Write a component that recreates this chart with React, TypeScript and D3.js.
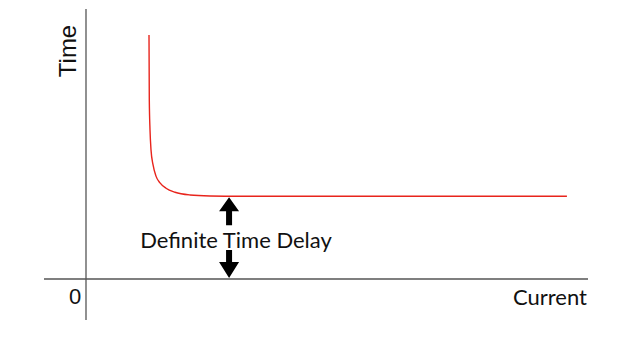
import React, { useEffect, useRef } from 'react';
import { select, scaleLinear, line, curveMonotoneX } from 'd3';

// curve readings (current, time) in arbitrary units
const currentValues = [1.255, 1.261, 1.275, 1.295, 1.335, 1.394, 1.474, 1.594, 1.773, 2.07, 2.47, 3.07, 9.58];
const timeValues = [3.63, 2.66, 2.22, 1.92, 1.7, 1.53, 1.43, 1.35, 1.29, 1.25, 1.235, 1.23, 1.23];
const delayTime = 1.23;
const delayCurrent = 2.85;

const App = () => {
  const svgRef = useRef(null);

  useEffect(() => {
    const svg = select(svgRef.current);
    svg.selectAll('*').remove();

    const x = scaleLinear().domain([0, 10]).range([86, 588]);
    const y = scaleLinear().domain([0, 4]).range([279, 10]);

    // axes
    svg.append('line')
      .attr('x1', 44).attr('y1', y(0)).attr('x2', x(10)).attr('y2', y(0))
      .attr('stroke', '#555').attr('stroke-width', 1.3);
    svg.append('line')
      .attr('x1', x(0)).attr('y1', 9).attr('x2', x(0)).attr('y2', 320)
      .attr('stroke', '#555').attr('stroke-width', 1.3);

    // the curve
    const pts: [number, number][] = currentValues.map((c, i) => [c, timeValues[i]]);
    const path = line<[number, number]>()
      .x((d) => x(d[0]))
      .y((d) => y(d[1]))
      .curve(curveMonotoneX);
    svg.append('path')
      .attr('d', path(pts))
      .attr('fill', 'none')
      .attr('stroke', '#e8241c')
      .attr('stroke-width', 1.4);

    // arrows
    const ax = x(delayCurrent);
    const top = y(delayTime);
    const bot = y(0);
    svg.append('path')
      .attr('d', `M${ax},${top + 1} L${ax + 10},${top + 15} L${ax + 3},${top + 15} L${ax + 3},${top + 29} L${ax - 3},${top + 29} L${ax - 3},${top + 15} L${ax - 10},${top + 15} Z`)
      .attr('fill', '#000');
    svg.append('path')
      .attr('d', `M${ax},${bot - 1} L${ax + 10},${bot - 17} L${ax + 3},${bot - 17} L${ax + 3},${bot - 29} L${ax - 3},${bot - 29} L${ax - 3},${bot - 17} L${ax - 10},${bot - 17} Z`)
      .attr('fill', '#000');

    svg.append('text')
      .attr('x', 236).attr('y', 248)
      .attr('text-anchor', 'middle')
      .attr('font-family', 'Lato, sans-serif')
      .attr('font-size', 22)
      .attr('fill', '#111')
      .text('Definite Time Delay');

    svg.append('text')
      .attr('transform', 'translate(76,51) rotate(-90)')
      .attr('text-anchor', 'middle')
      .attr('font-family', '"Liberation Sans", Arial, sans-serif')
      .attr('font-size', 24)
      .attr('fill', '#111')
      .text('Time');

    svg.append('text')
      .attr('x', 75).attr('y', 304)
      .attr('text-anchor', 'middle')
      .attr('font-family', '"Liberation Sans", Arial, sans-serif')
      .attr('font-size', 22)
      .attr('fill', '#111')
      .text('0');

    svg.append('text')
      .attr('x', 550).attr('y', 305)
      .attr('text-anchor', 'middle')
      .attr('font-family', 'Lato, sans-serif')
      .attr('font-size', 22)
      .attr('fill', '#111')
      .text('Current');
  }, []);

  return (
    <svg ref={svgRef} width={633} height={356} style={{ position: 'absolute', left: 0, top: 0, background: '#fff' }}></svg>
  );
};

export default App;
